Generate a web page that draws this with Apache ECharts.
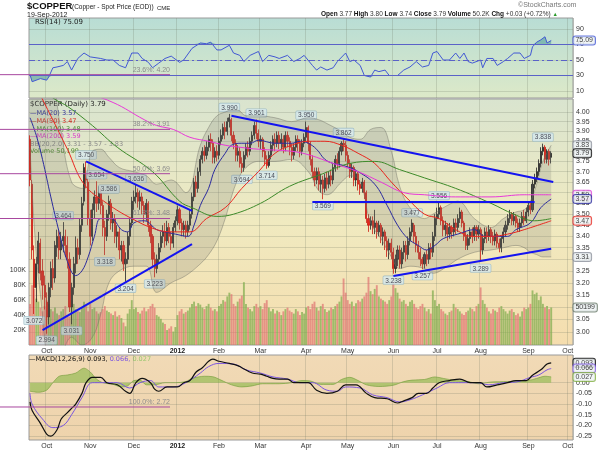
<!DOCTYPE html>
<html lang="en">
<head>
<meta charset="UTF-8">
<title>$COPPER</title>
<script src="https://cdn.jsdelivr.net/npm/echarts@6/dist/echarts.min.js"></script>
<style>
  html, body { margin: 0; padding: 0; background: #fff; }
  #chart { width: 600px; height: 450px; }
</style>
</head>
<body>
<div id="chart"></div>
<script>
// daily candles [open, close, low, high], first bar = 21-Sep-2011, last = 19-Sep-2012
var candles = [
  [3.86,3.66,3.63,3.88],[3.64,3.34,3.30,3.66],[3.30,3.18,3.072,3.36],[3.18,3.28,3.12,3.31],[3.28,3.38,3.24,3.42],
  [3.37,3.24,3.21,3.39],[3.25,3.19,3.13,3.30],[3.19,3.14,3.09,3.23],[3.12,3.06,2.994,3.16],[3.06,3.18,3.03,3.20],
  [3.18,3.26,3.14,3.29],[3.26,3.22,3.17,3.30],[3.22,3.36,3.20,3.38],[3.35,3.40,3.31,3.43],[3.40,3.34,3.30,3.43],
  [3.34,3.38,3.30,3.42],[3.38,3.40,3.33,3.464],[3.40,3.36,3.31,3.43],[3.36,3.30,3.26,3.40],[3.30,3.10,3.08,3.33],
  [3.10,3.18,3.031,3.20],[3.18,3.28,3.15,3.31],[3.28,3.35,3.24,3.40],[3.35,3.32,3.28,3.39],[3.32,3.45,3.30,3.48],
  [3.45,3.55,3.42,3.58],[3.56,3.72,3.54,3.74],[3.70,3.66,3.62,3.75],[3.65,3.48,3.45,3.67],[3.48,3.40,3.36,3.52],
  [3.40,3.52,3.38,3.55],[3.52,3.58,3.48,3.61],[3.58,3.55,3.51,3.654],[3.55,3.60,3.52,3.63],[3.60,3.54,3.50,3.62],
  [3.54,3.44,3.40,3.56],[3.44,3.40,3.318,3.47],[3.40,3.50,3.38,3.52],[3.50,3.56,3.47,3.586],[3.55,3.46,3.43,3.57],
  [3.46,3.48,3.42,3.51],[3.48,3.40,3.37,3.50],[3.40,3.42,3.35,3.45],[3.42,3.34,3.30,3.44],[3.34,3.36,3.29,3.38],
  [3.36,3.28,3.25,3.38],[3.28,3.30,3.204,3.33],[3.30,3.40,3.28,3.42],[3.40,3.46,3.36,3.48],[3.46,3.56,3.44,3.58],
  [3.56,3.58,3.52,3.61],[3.58,3.60,3.55,3.636],[3.60,3.56,3.53,3.62],[3.56,3.58,3.52,3.61],[3.58,3.54,3.50,3.60],
  [3.54,3.50,3.46,3.56],[3.50,3.55,3.47,3.57],[3.55,3.45,3.42,3.56],[3.45,3.40,3.37,3.47],[3.40,3.30,3.27,3.41],
  [3.30,3.26,3.223,3.33],[3.26,3.30,3.24,3.32],[3.30,3.35,3.28,3.37],[3.35,3.40,3.33,3.42],[3.40,3.42,3.37,3.45],
  [3.42,3.38,3.35,3.46],[3.38,3.44,3.36,3.47],[3.44,3.40,3.37,3.46],[3.40,3.37,3.34,3.42],[3.37,3.44,3.35,3.46],
  [3.44,3.47,3.42,3.49],[3.47,3.52,3.45,3.54],[3.52,3.46,3.43,3.53],[3.46,3.43,3.40,3.48],[3.43,3.45,3.40,3.47],
  [3.45,3.42,3.39,3.47],[3.42,3.45,3.40,3.47],[3.45,3.50,3.43,3.52],[3.50,3.58,3.48,3.60],[3.58,3.65,3.56,3.67],
  [3.65,3.62,3.58,3.68],[3.62,3.70,3.60,3.72],[3.70,3.76,3.68,3.78],[3.76,3.80,3.74,3.82],[3.80,3.78,3.75,3.83],
  [3.78,3.82,3.76,3.85],[3.82,3.86,3.80,3.88],[3.86,3.84,3.80,3.89],[3.84,3.77,3.74,3.86],[3.77,3.80,3.74,3.82],
  [3.80,3.78,3.75,3.83],[3.78,3.85,3.76,3.87],[3.85,3.88,3.83,3.91],[3.88,3.92,3.86,3.94],[3.92,3.90,3.86,3.95],
  [3.90,3.95,3.88,3.97],[3.95,3.97,3.92,3.990],[3.96,3.88,3.85,3.97],[3.88,3.84,3.81,3.90],[3.84,3.78,3.75,3.86],
  [3.78,3.80,3.75,3.83],[3.80,3.74,3.72,3.82],[3.74,3.72,3.694,3.77],[3.72,3.78,3.70,3.80],[3.78,3.82,3.76,3.84],
  [3.82,3.80,3.77,3.85],[3.80,3.85,3.78,3.87],[3.85,3.88,3.83,3.90],[3.88,3.93,3.86,3.95],[3.93,3.89,3.86,3.961],
  [3.89,3.85,3.82,3.91],[3.85,3.86,3.81,3.88],[3.86,3.80,3.77,3.87],[3.80,3.76,3.73,3.82],[3.76,3.73,3.714,3.78],
  [3.73,3.78,3.72,3.80],[3.78,3.83,3.76,3.85],[3.83,3.86,3.80,3.88],[3.86,3.84,3.80,3.89],[3.84,3.88,3.82,3.90],
  [3.88,3.84,3.81,3.90],[3.84,3.86,3.81,3.89],[3.86,3.82,3.79,3.88],[3.82,3.88,3.80,3.90],[3.88,3.85,3.82,3.90],
  [3.85,3.82,3.78,3.87],[3.82,3.78,3.75,3.84],[3.78,3.82,3.76,3.84],[3.82,3.86,3.80,3.88],[3.86,3.84,3.80,3.88],
  [3.84,3.80,3.77,3.86],[3.80,3.84,3.78,3.86],[3.84,3.87,3.82,3.89],[3.87,3.92,3.85,3.950],[3.92,3.84,3.80,3.93],
  [3.84,3.76,3.73,3.85],[3.76,3.70,3.67,3.78],[3.70,3.66,3.63,3.72],[3.66,3.70,3.64,3.72],[3.70,3.64,3.61,3.72],
  [3.64,3.66,3.60,3.69],[3.66,3.62,3.569,3.68],[3.62,3.67,3.60,3.69],[3.67,3.64,3.61,3.70],[3.64,3.68,3.62,3.70],
  [3.68,3.66,3.63,3.71],[3.66,3.72,3.64,3.74],[3.72,3.76,3.70,3.78],[3.76,3.74,3.71,3.79],[3.74,3.80,3.72,3.82],
  [3.80,3.84,3.78,3.85],[3.84,3.83,3.80,3.862],[3.83,3.78,3.75,3.85],[3.78,3.74,3.72,3.80],[3.74,3.70,3.67,3.76],
  [3.70,3.72,3.67,3.74],[3.72,3.66,3.63,3.73],[3.66,3.69,3.63,3.71],[3.69,3.64,3.61,3.70],[3.64,3.62,3.59,3.66],
  [3.62,3.65,3.60,3.67],[3.65,3.60,3.57,3.66],[3.60,3.48,3.46,3.61],[3.48,3.45,3.42,3.50],[3.45,3.47,3.43,3.49],
  [3.47,3.44,3.41,3.49],[3.44,3.46,3.41,3.52],[3.46,3.42,3.39,3.47],[3.42,3.45,3.40,3.47],[3.45,3.40,3.37,3.46],
  [3.40,3.42,3.36,3.44],[3.42,3.38,3.34,3.43],[3.38,3.34,3.31,3.40],[3.34,3.37,3.30,3.39],[3.37,3.33,3.30,3.39],
  [3.33,3.26,3.238,3.35],[3.26,3.30,3.24,3.32],[3.30,3.34,3.27,3.36],[3.34,3.28,3.26,3.36],[3.28,3.33,3.26,3.35],
  [3.33,3.36,3.30,3.38],[3.36,3.32,3.29,3.38],[3.32,3.38,3.30,3.40],[3.38,3.42,3.36,3.44],[3.42,3.46,3.40,3.477],
  [3.45,3.40,3.37,3.46],[3.40,3.36,3.33,3.42],[3.36,3.33,3.30,3.38],[3.33,3.30,3.27,3.35],[3.30,3.28,3.257,3.31],
  [3.28,3.32,3.26,3.33],[3.32,3.30,3.27,3.34],[3.30,3.35,3.28,3.37],[3.35,3.33,3.30,3.37],[3.33,3.40,3.31,3.42],
  [3.40,3.48,3.38,3.50],[3.48,3.50,3.45,3.53],[3.50,3.53,3.48,3.556],[3.53,3.47,3.45,3.54],[3.47,3.43,3.40,3.49],
  [3.43,3.45,3.40,3.47],[3.45,3.41,3.38,3.46],[3.41,3.44,3.39,3.46],[3.44,3.42,3.39,3.45],[3.42,3.46,3.40,3.48],
  [3.46,3.44,3.41,3.48],[3.44,3.48,3.42,3.50],[3.48,3.51,3.46,3.53],[3.51,3.46,3.44,3.52],[3.46,3.40,3.38,3.47],
  [3.40,3.36,3.34,3.42],[3.36,3.39,3.34,3.41],[3.39,3.42,3.36,3.44],[3.42,3.40,3.37,3.44],[3.40,3.44,3.38,3.45],
  [3.44,3.41,3.38,3.45],[3.41,3.43,3.39,3.45],[3.43,3.34,3.289,3.44],[3.34,3.39,3.32,3.41],[3.39,3.42,3.37,3.44],
  [3.42,3.40,3.37,3.44],[3.40,3.43,3.38,3.45],[3.43,3.40,3.37,3.44],[3.40,3.38,3.36,3.42],[3.38,3.41,3.36,3.43],
  [3.41,3.37,3.35,3.42],[3.37,3.35,3.33,3.39],[3.35,3.39,3.33,3.40],[3.39,3.42,3.37,3.44],[3.42,3.45,3.40,3.47],
  [3.45,3.48,3.43,3.50],[3.48,3.50,3.46,3.52],[3.50,3.47,3.45,3.51],[3.47,3.49,3.45,3.51],[3.49,3.46,3.44,3.50],
  [3.46,3.44,3.42,3.48],[3.44,3.46,3.42,3.48],[3.46,3.49,3.44,3.51],[3.49,3.47,3.45,3.52],[3.47,3.51,3.46,3.53],
  [3.51,3.54,3.49,3.56],[3.54,3.52,3.50,3.56],[3.52,3.64,3.51,3.66],[3.64,3.67,3.62,3.69],[3.67,3.70,3.65,3.72],
  [3.70,3.74,3.68,3.76],[3.74,3.80,3.72,3.82],[3.80,3.82,3.78,3.838],[3.82,3.76,3.74,3.83],[3.76,3.80,3.74,3.81],
  [3.80,3.76,3.73,3.81],[3.77,3.79,3.74,3.80]
];
// daily volume, thousands
var volumes = [
  55,80,75,62,58,50,45,52,
  60,55,48,45,50,42,40,45,48,52,40,38,60,55,48,45,44,50,58,52,45,
  55,48,50,45,42,44,48,52,46,44,42,40,45,38,40,36,30,25,42,48,60,
  48,50,44,42,46,50,45,48,52,55,50,40,38,35,30,28,20,22,25,18,24,
  40,45,48,42,44,46,50,55,58,52,56,54,50,48,52,55,50,46,48,45,
  52,55,60,58,65,70,68,55,52,58,62,66,84,55,50,48,45,52,55,50,
  52,48,56,60,50,45,48,42,46,44,40,45,48,50,46,44,42,48,45,40,44,42,
  50,52,48,55,58,50,46,52,55,48,44,46,50,48,52,55,58,65,89,70,
  60,55,58,52,56,60,58,62,65,70,91,72,68,75,80,65,62,60,58,55,60,65,
  84,76,70,62,58,60,55,52,58,60,55,50,48,52,55,50,45,48,42,73,60,
  52,55,48,45,42,40,44,46,55,50,48,45,42,40,44,46,50,48,45,52,55,
  77,60,55,50,45,42,48,46,44,50,52,48,45,42,46,48,44,40,42,38,45,50,48,
  50,55,73,68,70,60,65,55,50,52,48,50.2
];
var monthStarts = [8, 29, 50, 71, 91, 111, 133, 153, 175, 196, 217, 240, 259];
var monthLabels = ['Oct', 'Nov', 'Dec', '2012', 'Feb', 'Mar', 'Apr', 'May', 'Jun', 'Jul', 'Aug', 'Sep', 'Oct'];
var priceTicks = [3.00, 3.05, 3.10, 3.15, 3.20, 3.25, 3.30, 3.35, 3.40, 3.45, 3.50, 3.55, 3.60, 3.65, 3.70, 3.75, 3.80, 3.85, 3.90, 3.95, 4.00];
var volTicks = [20, 40, 60, 80, 100];
var rsiTicks = [10, 30, 50, 70, 90];
var macdTicks = [0, -0.05, -0.10, -0.15, -0.20, -0.25];

// overlays as [bar index, value]
var ma20 = [[0,3.97],[3,3.88],[6,3.76],[10,3.58],[14,3.42],[18,3.29],[22,3.23],[25,3.25],[28,3.31],[31,3.40],[34,3.48],[39,3.48],[44,3.43],[47,3.42],[50,3.46],[55,3.47],[61,3.43],[65,3.42],[70,3.41],[76,3.40],[79,3.45],[82,3.54],[86,3.62],[89,3.71],[94,3.79],[97,3.83],[102,3.84],[106,3.84],[110,3.855],[118,3.84],[126,3.84],[130,3.85],[134,3.84],[138,3.81],[142,3.76],[146,3.74],[151,3.73],[158,3.70],[166,3.64],[172,3.54],[177,3.45],[182,3.39],[187,3.36],[191,3.34],[195,3.36],[199,3.39],[206,3.41],[214,3.43],[219,3.40],[225,3.40],[230,3.40],[234,3.43],[241,3.46],[246,3.53],[251,3.57]];
var ma50 = [[0,4.20],[10,3.98],[18,3.81],[26,3.64],[37,3.55],[49,3.48],[61,3.43],[69,3.42],[77,3.42],[85,3.48],[94,3.53],[102,3.62],[110,3.70],[118,3.79],[126,3.83],[134,3.85],[142,3.85],[150,3.83],[158,3.79],[166,3.74],[174,3.65],[182,3.57],[190,3.50],[197,3.48],[205,3.43],[213,3.40],[222,3.40],[230,3.41],[238,3.43],[251,3.47]];
var ma100 = [[0,4.16],[13,4.06],[18,4.03],[30,3.93],[42,3.82],[59,3.70],[72,3.56],[78,3.53],[90,3.49],[98,3.50],[111,3.55],[125,3.63],[141,3.69],[154,3.74],[166,3.75],[178,3.71],[190,3.67],[205,3.62],[222,3.55],[233,3.50],[243,3.47],[251,3.48]];
var ma200 = [[0,4.22],[20,4.13],[40,4.05],[55,3.96],[61,3.93],[69,3.91],[77,3.87],[86,3.85],[94,3.83],[101,3.82],[110,3.81],[126,3.80],[135,3.78],[146,3.74],[158,3.70],[169,3.65],[180,3.60],[190,3.59],[205,3.58],[222,3.58],[238,3.59],[251,3.59]];
var bbIdx   = [0,2,5,10,15,20,25,30,34,38,43,50,56,61,68,75,82,86,90,94,97,100,104,110,118,126,134,139,143,150,154,159,164,169,174,178,183,190,194,201,206,214,222,228,234,238,241,244,247,251];
var bbUpper = [4.14,4.30,4.40,4.25,3.90,3.65,3.62,3.80,3.81,3.77,3.72,3.70,3.68,3.64,3.66,3.60,3.83,3.92,3.98,4.00,4.01,4.01,3.98,3.98,3.97,3.95,3.97,3.96,3.94,3.90,3.87,3.86,3.91,3.92,3.80,3.63,3.53,3.48,3.50,3.54,3.56,3.48,3.44,3.48,3.51,3.52,3.56,3.64,3.75,3.83];
var bbLower = [3.82,3.45,3.15,2.90,2.92,2.98,2.95,2.98,3.07,3.20,3.25,3.27,3.27,3.16,3.20,3.23,3.28,3.32,3.38,3.48,3.58,3.66,3.72,3.75,3.75,3.76,3.70,3.61,3.59,3.65,3.68,3.65,3.46,3.39,3.31,3.26,3.27,3.26,3.24,3.27,3.30,3.33,3.34,3.35,3.36,3.35,3.33,3.32,3.31,3.31];
var rsi = [[0,31],[1,22],[5,26],[8,24],[9,28],[11,40],[13,41],[16,43],[18,48],[20,37],[23,52],[26,59],[29,54],[34,52],[37,50],[40,50],[43,43],[46,40],[49,59],[52,59],[54,52],[57,47],[59,40],[62,46],[65,52],[68,55],[72,47],[74,50],[78,65],[82,72],[85,71],[87,73],[90,63],[92,63],[96,69],[98,59],[101,56],[103,48],[106,56],[110,61],[112,48],[115,56],[118,54],[120,52],[124,56],[127,48],[130,52],[132,56],[136,43],[138,37],[140,41],[143,37],[146,40],[148,48],[152,59],[154,48],[156,50],[159,43],[161,30],[164,28],[166,37],[168,35],[171,37],[173,30],[177,30],[180,37],[183,41],[186,48],[189,41],[192,43],[194,59],[196,61],[199,50],[202,50],[205,59],[207,52],[209,59],[211,48],[213,46],[217,50],[218,40],[220,52],[223,52],[225,43],[228,48],[230,52],[233,59],[236,59],[238,52],[241,56],[242,67],[244,73],[246,76],[248,80],[249,72],[251,75.09]];
var macd = [[0,-0.09],[1,-0.13],[5,-0.19],[8,-0.24],[10,-0.25],[13,-0.22],[15,-0.17],[18,-0.14],[20,-0.12],[22,-0.10],[25,-0.05],[27,0.0],[30,0.025],[34,0.025],[37,0.0],[42,-0.01],[46,-0.04],[48,-0.05],[51,0.0],[54,0.02],[58,0.0],[60,-0.03],[62,-0.04],[66,-0.02],[71,-0.02],[74,0.0],[77,0.01],[80,0.05],[83,0.07],[86,0.10],[88,0.11],[91,0.10],[96,0.09],[100,0.08],[102,0.07],[107,0.045],[111,0.04],[114,0.03],[117,0.02],[120,0.017],[124,0.017],[127,0.0],[130,0.0],[134,0.0],[138,-0.035],[143,-0.05],[148,-0.04],[152,-0.01],[157,-0.01],[162,-0.05],[166,-0.07],[172,-0.075],[177,-0.095],[180,-0.085],[184,-0.07],[187,-0.05],[191,-0.05],[194,-0.025],[197,0.0],[202,0.01],[207,0.017],[212,0.0],[217,0.0],[220,-0.02],[225,-0.01],[230,0.0],[234,0.01],[239,0.01],[242,0.035],[246,0.06],[249,0.087],[251,0.093]];
var signal = [[0,-0.05],[1,-0.10],[6,-0.17],[11,-0.21],[16,-0.20],[20,-0.15],[25,-0.07],[30,0.0],[35,0.0],[42,0.0],[48,-0.025],[53,0.0],[58,0.01],[62,-0.02],[69,-0.02],[75,0.0],[82,0.045],[86,0.075],[91,0.09],[98,0.087],[104,0.06],[111,0.045],[117,0.027],[124,0.017],[130,0.0],[136,0.0],[143,-0.035],[148,-0.04],[152,-0.02],[159,-0.025],[165,-0.057],[172,-0.07],[178,-0.09],[183,-0.08],[189,-0.057],[196,-0.025],[202,0.0],[208,0.0],[215,0.0],[221,-0.01],[228,0.0],[234,0.003],[241,0.025],[245,0.036],[249,0.06],[251,0.066]];
var hist = [[0,-0.04],[4,-0.045],[8,-0.035],[11,0],[14,0.03],[18,0.036],[22,0.045],[26,0.068],[29,0.05],[32,0.017],[35,0],[40,-0.008],[44,-0.02],[47,-0.015],[50,0.01],[53,0.012],[56,-0.01],[60,-0.01],[65,0],[70,0],[75,0.005],[78,0.02],[84,0.03],[88,0.028],[92,0.012],[97,-0.01],[102,-0.02],[107,-0.015],[112,-0.005],[120,-0.005],[126,0],[131,0.01],[135,0.008],[140,-0.008],[146,-0.008],[150,0.015],[154,0.025],[158,0.01],[162,-0.01],[168,-0.018],[175,-0.012],[180,0.005],[184,0.012],[190,0.015],[195,0.027],[199,0.02],[205,0.01],[211,0.005],[216,-0.005],[222,0.003],[230,0.005],[236,0.008],[240,0.01],[244,0.02],[248,0.03],[251,0.027]];
var peaks = [[16,3.464],[27,3.750],[32,3.654],[38,3.586],[51,3.636],[96,3.990],[109,3.961],[133,3.950],[151,3.862],[184,3.477],[197,3.556],[247,3.838]];
var troughs = [[2,3.072],[8,2.994],[20,3.031],[36,3.318],[46,3.204],[60,3.223],[102,3.694],[114,3.714],[141,3.569],[175,3.238],[189,3.257],[217,3.289]];
var trendLines = [
  [[6, 3.008], [78, 3.366]],
  [[27, 3.75], [78, 3.515]],
  [[97, 3.98], [252, 3.65]],
  [[136, 3.556], [243, 3.556]],
  [[175, 3.228], [251, 3.345]]
];
var fibLevels = [4.20, 3.91, 3.69, 3.48, 2.72];
var fibNames = ['23.6%', '38.2%', '50.0%', '61.8%', '100.0%'];
var priceTags = [['3.83', 3.83, '#8a8f9a'], ['3.79', 3.79, '#000'], ['3.59', 3.59, '#e040d8'], ['3.57', 3.57, '#2b2b9e'], ['3.47', 3.47, '#e8271f'], ['3.31', 3.31, '#8a8f9a']];
var macdTags = [['0.093', 0.093, '#000'], ['0.066', 0.066, '#7b55e0'], ['0.027', 0.027, '#7fae3e']];

var cats = [];
for (var i = 0; i < 262; i++) cats.push(String(i));

var FONT = 'Liberation Sans';
var gridLine = { show: true, lineStyle: { color: 'rgba(105,115,95,0.22)', width: 1 } };
function isMonth(i) { return monthStarts.indexOf(i) >= 0; }

function xAxisFor(gi, showLabels) {
  return {
    type: 'category', gridIndex: gi, data: cats, boundaryGap: true,
    axisLine: { show: false }, axisTick: { show: false },
    axisLabel: {
      show: showLabels, interval: function (i) { return isMonth(i); },
      formatter: function (v, i) {
        var k = monthStarts.indexOf(Number(v));
        return monthLabels[k] === '2012' ? '{b|2012}' : monthLabels[k];
      },
      fontSize: 7, color: '#333', margin: 3, fontFamily: FONT,
      rich: { b: { fontWeight: 'bold', fontSize: 7, color: '#222', fontFamily: FONT } }
    },
    splitLine: { show: true, interval: function (i) { return isMonth(i); }, lineStyle: gridLine.lineStyle }
  };
}
function panelBg(stops) {
  return new echarts.graphic.LinearGradient(0, 0, 0, 1, stops);
}
function tagLabel(color) {
  return {
    show: true, position: 'right', distance: 1, formatter: '{b}',
    fontSize: 7, fontFamily: FONT, color: '#111', backgroundColor: '#eef3f4',
    borderColor: color, borderWidth: 1, borderRadius: 2, padding: [1, 2, 0, 2]
  };
}
var labelBox = {
  fontSize: 6.5, fontFamily: FONT, color: '#223', backgroundColor: '#d6e8ee',
  borderColor: '#93b4c2', borderWidth: 0.6, padding: [1, 2, 0, 2], borderRadius: 1
};

var chart = echarts.init(document.getElementById('chart'));

var series = [
  {
    name: 'Volume', type: 'bar', xAxisIndex: 1, yAxisIndex: 2, barWidth: 1.9,
    data: volumes.map(function (v, i) {
      var up = candles[i][1] >= candles[i][0];
      return { value: v, itemStyle: { color: up ? 'rgba(128,172,78,0.72)' : 'rgba(222,110,110,0.68)' } };
    })
  },
  {
    name: 'BBlow', type: 'line', xAxisIndex: 1, yAxisIndex: 1, stack: 'bb', smooth: 0.4,
    symbol: 'none', lineStyle: { color: 'rgba(110,110,100,0.55)', width: 0.8 },
    data: bbIdx.map(function (x, k) { return [x, bbLower[k]]; })
  },
  {
    name: 'BB', type: 'line', xAxisIndex: 1, yAxisIndex: 1, stack: 'bb', smooth: 0.4,
    symbol: 'none', lineStyle: { color: 'rgba(110,110,100,0.55)', width: 0.8 },
    areaStyle: { color: 'rgba(125,125,115,0.32)' },
    data: bbIdx.map(function (x, k) { return [x, bbUpper[k] - bbLower[k]]; })
  },
  {
    name: '$COPPER', type: 'candlestick', xAxisIndex: 1, yAxisIndex: 1, barWidth: 1.6,
    itemStyle: { color: '#454545', color0: '#e8261c', borderColor: '#222', borderColor0: '#cc1a12', borderWidth: 0.8 },
    data: candles,
    markLine: {
      symbol: 'none', silent: true, label: { show: false },
      lineStyle: { color: '#1414f0', width: 2, type: 'solid' },
      data: trendLines.map(function (l) { return [{ coord: l[0] }, { coord: l[1] }]; })
    }
  }
];
[[ma20, '#2b2b9e'], [ma50, '#e8271f'], [ma100, '#3d8a2a'], [ma200, '#e838d8']].forEach(function (m) {
  series.push({
    type: 'line', xAxisIndex: 1, yAxisIndex: 1, data: m[0], smooth: 0.4, symbol: 'none',
    lineStyle: { color: m[1], width: 1 }
  });
});
series.push({
  type: 'scatter', xAxisIndex: 1, yAxisIndex: 1, data: peaks, symbolSize: 1,
  itemStyle: { color: 'rgba(0,0,0,0)' },
  label: Object.assign({ show: true, position: 'top', distance: 2, formatter: function (p) { return p.value[1].toFixed(3); } }, labelBox)
});
series.push({
  type: 'scatter', xAxisIndex: 1, yAxisIndex: 1, data: troughs, symbolSize: 1,
  itemStyle: { color: 'rgba(0,0,0,0)' },
  label: Object.assign({ show: true, position: 'bottom', distance: 2, formatter: function (p) { return p.value[1].toFixed(3); } }, labelBox)
});
series.push({
  type: 'scatter', xAxisIndex: 1, yAxisIndex: 1, symbolSize: 1, itemStyle: { color: 'rgba(0,0,0,0)' },
  data: priceTags.map(function (t) { return { name: t[0], value: [261, t[1]], label: tagLabel(t[2]) }; })
});
series.push({
  type: 'scatter', xAxisIndex: 1, yAxisIndex: 2, symbolSize: 1, itemStyle: { color: 'rgba(0,0,0,0)' },
  data: [{ name: '50199', value: [261, 50.2], label: tagLabel('#6a7a6a') }]
});
// RSI panel
series.push({
  type: 'line', xAxisIndex: 0, yAxisIndex: 0, symbol: 'none', lineStyle: { width: 0 },
  areaStyle: { origin: 70, color: 'rgba(70,150,150,0.75)' },
  data: rsi.map(function (p) { return [p[0], Math.max(p[1], 70)]; })
});
series.push({
  type: 'line', xAxisIndex: 0, yAxisIndex: 0, symbol: 'none', lineStyle: { width: 0 },
  areaStyle: { origin: 30, color: 'rgba(70,150,150,0.75)' },
  data: rsi.map(function (p) { return [p[0], Math.min(p[1], 30)]; })
});
series.push({
  name: 'RSI', type: 'line', xAxisIndex: 0, yAxisIndex: 0, symbol: 'none', data: rsi,
  lineStyle: { color: '#4258d4', width: 1 },
  markLine: {
    symbol: 'none', silent: true, label: { show: false },
    data: [
      { yAxis: 70, lineStyle: { color: '#5a62c8', width: 1.2, type: 'solid' } },
      { yAxis: 30, lineStyle: { color: '#5a62c8', width: 1.2, type: 'solid' } },
      { yAxis: 50, lineStyle: { color: '#5a62c8', width: 1, type: [6, 3, 2, 3] } }
    ]
  }
});
series.push({
  type: 'scatter', xAxisIndex: 0, yAxisIndex: 0, symbolSize: 1, itemStyle: { color: 'rgba(0,0,0,0)' },
  data: [{ name: '75.09', value: [261, 75.09], label: tagLabel('#4258d4') }]
});
// MACD panel
series.push({
  type: 'line', xAxisIndex: 2, yAxisIndex: 3, symbol: 'none', data: hist, smooth: 0.3,
  lineStyle: { color: '#6f9a35', width: 0.6 }, areaStyle: { color: 'rgba(128,180,60,0.8)', origin: 0 }
});
series.push({
  type: 'line', xAxisIndex: 2, yAxisIndex: 3, symbol: 'none', data: signal, smooth: 0.4,
  lineStyle: { color: '#7b55e0', width: 1 }
});
series.push({
  type: 'line', xAxisIndex: 2, yAxisIndex: 3, symbol: 'none', data: macd, smooth: 0.4,
  lineStyle: { color: '#111', width: 1.2 }
});
series.push({
  type: 'scatter', xAxisIndex: 2, yAxisIndex: 3, symbolSize: 1, itemStyle: { color: 'rgba(0,0,0,0)' },
  data: macdTags.map(function (t) { return { name: t[0], value: [261, t[1]], label: tagLabel(t[2]) }; })
});
// Fibonacci levels, drawn on a full-height log scale matching the price panel
fibLevels.forEach(function (p, k) {
  series.push({
    type: 'line', xAxisIndex: 3, yAxisIndex: 4, symbol: 'circle', symbolSize: 1, z: 5,
    itemStyle: { color: 'rgba(0,0,0,0)' },
    lineStyle: { color: '#a8479f', width: 1 },
    data: [[0, p], {
      value: [1, p],
      label: {
        show: true, position: 'top', align: 'right', distance: 1,
        formatter: fibNames[k] + ': ' + p.toFixed(2),
        fontSize: 7, fontFamily: FONT, color: '#8c8c8c'
      }
    }]
  });
});

var option = {
  animation: false,
  backgroundColor: '#ffffff',
  textStyle: { fontFamily: FONT },
  grid: [
    { left: 29, right: 27, top: 18, height: 80, show: true, borderColor: '#9a9a9a', borderWidth: 1,
      backgroundColor: panelBg([{ offset: 0, color: '#b8ddd5' }, { offset: 1, color: '#dde9c8' }]) },
    { left: 29, right: 27, top: 99, height: 246, show: true, borderColor: '#9a9a9a', borderWidth: 1,
      backgroundColor: panelBg([{ offset: 0, color: '#d9e4cf' }, { offset: 0.5, color: '#f0eac0' }, { offset: 1, color: '#f5ddae' }]) },
    { left: 29, right: 27, top: 355, height: 85, show: true, borderColor: '#9a9a9a', borderWidth: 1,
      backgroundColor: panelBg([{ offset: 0, color: '#f1dab6' }, { offset: 1, color: '#eed3ac' }]) },
    { left: 0, top: 0, width: 170, height: 450, show: false }
  ],
  xAxis: [
    xAxisFor(0, false),
    xAxisFor(1, true),
    xAxisFor(2, true),
    { type: 'value', gridIndex: 3, min: 0, max: 1, show: false }
  ],
  yAxis: [
    { type: 'value', gridIndex: 0, position: 'right', min: 0.97, max: 104.2,
      axisLine: { show: false }, axisTick: { show: false, customValues: rsiTicks },
      axisLabel: { customValues: rsiTicks, fontSize: 7, color: '#333', margin: 3, fontFamily: FONT },
      splitLine: gridLine },
    { type: 'log', gridIndex: 1, position: 'right', min: 2.95, max: 4.0686, logBase: 10,
      axisLine: { show: false }, axisTick: { show: false, customValues: priceTicks },
      axisLabel: { customValues: priceTicks, formatter: function (v) { return Number(v).toFixed(2); },
        fontSize: 7, color: '#333', margin: 3, fontFamily: FONT },
      splitLine: gridLine },
    { type: 'value', gridIndex: 1, position: 'left', min: 0, max: 329,
      axisLine: { show: false }, axisTick: { show: false, customValues: volTicks },
      axisLabel: { customValues: volTicks, formatter: function (v) { return v + 'K'; },
        fontSize: 7, color: '#333', margin: 3, fontFamily: FONT },
      splitLine: { show: false } },
    { type: 'value', gridIndex: 2, position: 'right', min: -0.268, max: 0.1294,
      axisLine: { show: false }, axisTick: { show: false, customValues: macdTicks },
      axisLabel: { customValues: macdTicks, formatter: function (v) { return v.toFixed(2); },
        fontSize: 7, color: '#333', margin: 3, fontFamily: FONT },
      splitLine: gridLine },
    { type: 'log', gridIndex: 3, min: 2.5713, max: 4.6306, show: false }
  ],
  series: series,
  graphic: [
    { type: 'text', x: 27, y: 1, style: { text: '$COPPER', font: 'bold 9.5px "Liberation Sans"', fill: '#111' } },
    { type: 'text', x: 72, y: 4, style: { text: '(Copper - Spot Price (EOD))', font: '6.5px "Liberation Sans"', fill: '#222' } },
    { type: 'text', x: 157, y: 5, style: { text: 'CME', font: '6px "Liberation Sans"', fill: '#222' } },
    { type: 'text', x: 27, y: 12, style: { text: '19-Sep-2012', font: '7px "Liberation Sans"', fill: '#222' } },
    { type: 'text', x: 518, y: 2, style: { text: '\u00a9StockCharts.com', font: '7px "Liberation Sans"', fill: '#777' } },
    { type: 'text', x: 321, y: 11, style: {
      text: '{b|Open} 3.77 {b|High} 3.80 {b|Low} 3.74 {b|Close} 3.79 {b|Volume} 50.2K {b|Chg} +0.03 (+0.72%) {g|\u25b2}',
      font: '6.5px "Liberation Sans"', fill: '#333',
      rich: { b: { font: 'bold 6.5px "Liberation Sans"', fill: '#111' }, g: { font: '5.5px "Liberation Sans"', fill: '#2a9a2a' } } } },
    { type: 'text', x: 35, y: 19, style: { text: 'RSI(14) 75.09', font: '7px "DejaVu Sans"', fill: '#222' } },
    { type: 'text', x: 30, y: 101, style: { text: '$COPPER (Daily) 3.79', font: '7px "DejaVu Sans"', fill: '#222' } },
    { type: 'text', x: 30, y: 109.5, style: { text: '\u2014MA(20) 3.57', font: '6.5px "DejaVu Sans"', fill: '#2b2b9e' } },
    { type: 'text', x: 30, y: 117.5, style: { text: '\u2014MA(50) 3.47', font: '6.5px "DejaVu Sans"', fill: '#d8271f' } },
    { type: 'text', x: 30, y: 125.5, style: { text: '\u2014MA(100) 3.48', font: '6.5px "DejaVu Sans"', fill: '#3d8a2a' } },
    { type: 'text', x: 30, y: 133, style: { text: '\u2014MA(200) 3.59', font: '6.5px "DejaVu Sans"', fill: '#d838c8' } },
    { type: 'text', x: 30, y: 140.5, style: { text: 'BB(20,2.0) 3.31 - 3.57 - 3.83', font: '6.5px "DejaVu Sans"', fill: '#8a8a8a' } },
    { type: 'text', x: 30, y: 148, style: { text: 'Volume 50,199', font: '6.5px "DejaVu Sans"', fill: '#4a8a2a' } },
    { type: 'text', x: 29, y: 356, style: {
      text: '{k|\u2014MACD(12,26,9) 0.093,} {p|0.066,} {g|0.027}', font: '6.5px "DejaVu Sans"', fill: '#111',
      rich: { k: { font: '6.5px "DejaVu Sans"', fill: '#111' }, p: { font: '6.5px "DejaVu Sans"', fill: '#7b55e0' }, g: { font: '6.5px "DejaVu Sans"', fill: '#9ac870' } } } }
  ]
};
chart.setOption(option);
</script>
</body>
</html>
